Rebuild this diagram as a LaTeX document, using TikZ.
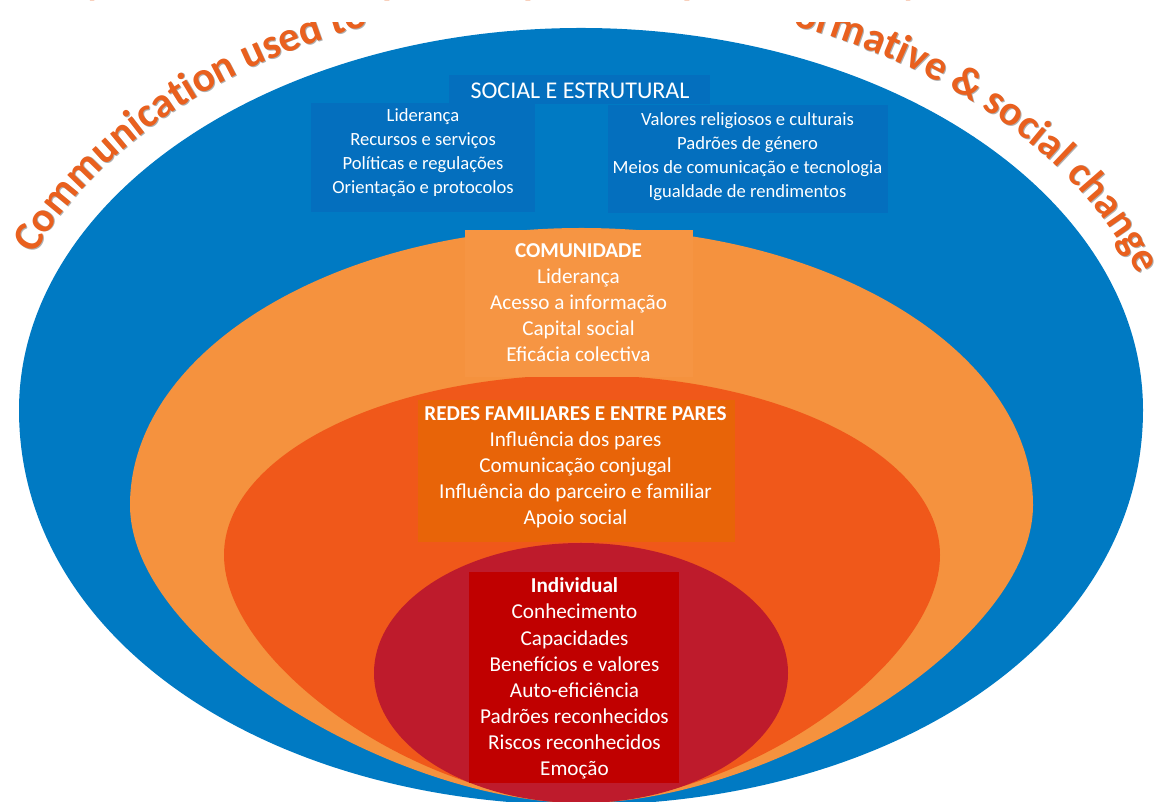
\documentclass[tikz,border=0pt]{standalone}
\usepackage{fontspec}
\setmainfont{Carlito}
\usetikzlibrary{decorations.text}

\definecolor{skyblue}{RGB}{0,122,195}
\definecolor{panelblue}{RGB}{4,111,190}
\definecolor{lightorange}{RGB}{245,146,62}
\definecolor{panelorange}{RGB}{246,149,67}
\definecolor{deeporange}{RGB}{240,88,26}
\definecolor{panelrust}{RGB}{232,100,8}
\definecolor{crimson}{RGB}{190,27,44}
\definecolor{panelred}{RGB}{192,0,0}
\definecolor{arcorange}{RGB}{233,96,30}
\definecolor{arcshade}{RGB}{175,175,175}

\begin{document}
\begin{tikzpicture}[x=1pt,y=1pt,
  panel/.style={inner sep=0pt, outer sep=0pt, draw=none},
  smalltxt/.style={text=white, align=center, inner sep=0pt, font=\fontsize{18.6}{24}\selectfont},
  bigtxt/.style={text=white, align=center, inner sep=0pt, font=\fontsize{21.2}{26.1}\selectfont},
  headtxt/.style={text=white, inner sep=0pt, font=\fontsize{24}{28}\selectfont},
  fragtxt/.style={anchor=base, inner sep=0pt, text=arcorange, font=\fontsize{40}{40}\selectfont\bfseries},
  arctext/.style={decorate, decoration={text along path, #1}}]
\useasboundingbox (0,0) rectangle (1162,802);
\begin{scope}
\clip (0,0) rectangle (1162,802);

% nested layers, outermost first
\fill[skyblue] (19,392) arc[start angle=180, end angle=0, x radius=562pt, y radius=382pt]
  .. controls (1143,160) and (891,-3) .. (581,-3)
  .. controls (271,-3) and (19,160) .. cycle;
\fill[lightorange] (130,297) arc[start angle=180, end angle=0, x radius=451.5pt, y radius=277pt]
  .. controls (1033,157) and (766.5,-1) .. (581.5,-1)
  .. controls (396.5,-1) and (130,157) .. cycle;
\fill[deeporange] (224,247) arc[start angle=180, end angle=0, x radius=358pt, y radius=180pt]
  .. controls (940,137) and (742,0) .. (582,0)
  .. controls (422,0) and (224,137) .. cycle;
\fill[crimson] (581,129) ellipse[x radius=207pt, y radius=130pt];

% text panels
\node[panel, fill=panelblue, minimum width=261pt, minimum height=29pt] (headbox) at (579.5,712.5) {};
\node[panel, fill=panelblue, minimum width=224pt, minimum height=109pt] (leftbox) at (423,644.5) {};
\node[panel, fill=panelblue, minimum width=280pt, minimum height=108pt] (rightbox) at (748,643) {};
\node[panel, fill=panelorange, minimum width=228pt, minimum height=147pt] (commbox) at (579,498.5) {};
\node[panel, fill=panelrust, minimum width=317pt, minimum height=142pt] (netbox) at (576.5,331) {};
\node[panel, fill=panelred, minimum width=210pt, minimum height=211pt] (indbox) at (574,124.5) {};

% panel texts
\node[headtxt] (headtext) at (580,711) {SOCIAL E ESTRUTURAL};
\node[smalltxt] (lefttext) at (423,649) {Liderança\\Recursos e serviços\\Políticas e regulações\\Orientação e protocolos};
\node[smalltxt] (righttext) at (747.5,645) {Valores religiosos e culturais\\Padrões de género\\Meios de comunicação e tecnologia\\Igualdade de rendimentos};
\node[bigtxt] (commtext) at (578.5,499.5) {\textbf{COMUNIDADE}\\Liderança\\Acesso a informação\\Capital social\\Eficácia colectiva};
\node[bigtxt] (nettext) at (575.5,335) {\textbf{REDES FAMILIARES E ENTRE PARES}\\Influência dos pares\\Comunicação conjugal\\Influência do parceiro e familiar\\Apoio social};
\node[bigtxt] (indtext) at (574.5,123.5) {\textbf{Individual}\\Conhecimento\\Capacidades\\Benefícios e valores\\Auto-eficiência\\Padrões reconhecidos\\Riscos reconhecidos\\Emoção};

% descenders of the title line above the frame
\node[fragtxt] (frag1) at (96,807) {y};
\node[fragtxt] (frag2) at (393,807) {p};
\node[fragtxt] (frag3) at (534,807) {p};
\node[fragtxt] (frag4) at (693,807) {p};
\node[fragtxt] (frag5) at (912,807) {y};
\end{scope}

% arched caption with a soft shadow, cut by the white band at the top
\coordinate (arcc) at (581,392);
\coordinate (shadec) at (581.9,391.1);
\begin{scope}
\clip (0,0) rectangle (1162,779);
\path[arctext={text color=arcshade, text align=left, text={|\fontsize{42}{42}\selectfont\bfseries|Communication used to}}]
  (shadec) ++(157.9:590pt and 412pt) arc[start angle=157.9, end angle=19.1, x radius=590pt, y radius=412pt];
\path[arctext={text color=arcshade, text align=right, text={|\fontsize{42}{42}\selectfont\bfseries|ormative {\&} social change}}]
  (shadec) ++(157.9:590pt and 412pt) arc[start angle=157.9, end angle=19.1, x radius=590pt, y radius=412pt];
\path[arctext={text color=arcorange, text align=left, text={|\fontsize{42}{42}\selectfont\bfseries|Communication used to}}]
  (arcc) ++(157.9:590pt and 412pt) arc[start angle=157.9, end angle=19.1, x radius=590pt, y radius=412pt];
\path[arctext={text color=arcorange, text align=right, text={|\fontsize{42}{42}\selectfont\bfseries|ormative {\&} social change}}]
  (arcc) ++(157.9:590pt and 412pt) arc[start angle=157.9, end angle=19.1, x radius=590pt, y radius=412pt];
\end{scope}
\end{tikzpicture}
\end{document}
